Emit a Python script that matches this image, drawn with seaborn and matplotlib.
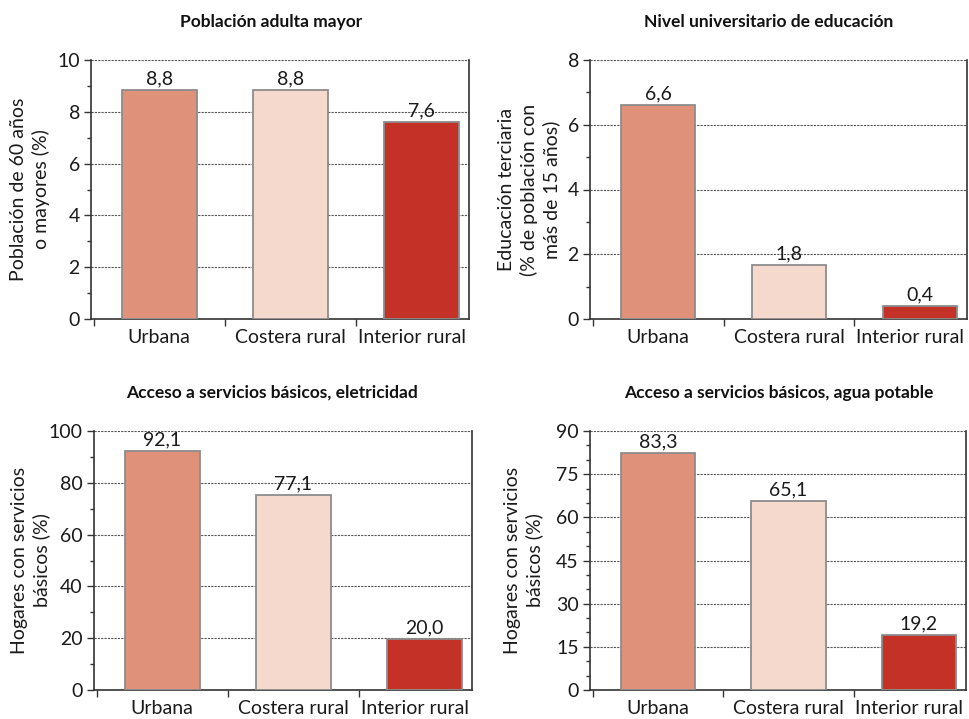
import matplotlib
matplotlib.use("Agg")
import matplotlib.pyplot as plt
import matplotlib.transforms as mtransforms
import seaborn as sns
import pandas as pd
from matplotlib.ticker import MultipleLocator, FixedLocator

sns.set_theme(style="white")
plt.rcParams['font.family'] = ['Lato', 'DejaVu Sans']

categories = ["Urbana", "Costera rural", "Interior rural"]
colors = ["#E0917A", "#F5D9CD", "#C43127"]

titles = ["Población adulta mayor",
          "Nivel universitario de educación",
          "Acceso a servicios básicos, eletricidad",
          "Acceso a servicios básicos, agua potable"]
ylabels = ["Población de 60 años\no mayores (%)",
           "Educación terciaria\n(% de población con\nmás de 15 años)",
           "Hogares con servicios\nbásicos (%)",
           "Hogares con servicios\nbásicos (%)"]

# bar heights as drawn in the picture
adult_vals = [8.85, 8.85, 7.6]
edu_vals = [6.6, 1.66, 0.4]
elec_vals = [92.3, 75.3, 19.8]
water_vals = [82.4, 65.6, 19.2]
all_vals = [adult_vals, edu_vals, elec_vals, water_vals]

# value labels as printed
adult_labels = ["8,8", "8,8", "7,6"]
edu_labels = ["6,6", "1,8", "0,4"]
elec_labels = ["92,1", "77,1", "20,0"]
water_labels = ["83,3", "65,1", "19,2"]
all_labels = [adult_labels, edu_labels, elec_labels, water_labels]

ymaxes = [10, 8, 100, 90]
ysteps = [2, 2, 20, 15]
yminor = [1, 1, 10, 5]

W, H = 970, 719
fig = plt.figure(figsize=(W / 100, H / 100), dpi=100)

# axes boxes in pixels: left, top, right, bottom
boxes = [(91, 60, 469, 319), (590, 60, 967, 319),
         (94, 431, 472, 690), (590, 431, 966, 690)]
title_pos = [(271, 22), (769, 22), (272, 393), (779, 393)]
ylabel_right = [50, 560, 50, 543]

FS = 14
TXT = "#1a1a1a"

for i in range(4):
    l, t, r, b = boxes[i]
    ax = fig.add_axes([l / W, 1 - b / H, (r - l) / W, (b - t) / H])
    df = pd.DataFrame({"cat": categories, "val": all_vals[i]})
    sns.barplot(data=df, x="cat", y="val", hue="cat", palette=colors,
                order=categories, hue_order=categories, dodge=False,
                legend=False, width=0.57, edgecolor="#8C8C8C",
                linewidth=1.3, saturation=1, ax=ax, zorder=3)
    ax.set_xlim(-0.52, 2.36)
    ax.set_ylim(0, ymaxes[i])
    ax.yaxis.set_major_locator(MultipleLocator(ysteps[i]))
    ax.yaxis.set_minor_locator(MultipleLocator(yminor[i]))
    ax.xaxis.set_minor_locator(FixedLocator([-0.5, 0.5, 1.5]))
    ax.grid(axis="y", which="major", linestyle=(0, (2, 1)), color="#555555",
            linewidth=0.8, zorder=0)
    ax.grid(axis="x", visible=False)
    for s in ["left", "bottom", "right"]:
        ax.spines[s].set_visible(True)
        ax.spines[s].set_color("#333333")
        ax.spines[s].set_linewidth(1.2)
    ax.spines["top"].set_visible(False)
    ax.tick_params(axis="y", which="major", direction="out", length=5,
                   width=1, color="#333333", labelsize=FS, pad=3,
                   left=True, labelcolor=TXT)
    ax.tick_params(axis="y", which="minor", direction="out", length=3,
                   width=1, color="#333333", left=True)
    ax.tick_params(axis="x", which="major", length=0, labelsize=FS,
                   pad=7, labelcolor=TXT)
    ax.tick_params(axis="x", which="minor", direction="out", length=5,
                   width=1, color="#333333", bottom=True)
    # last category label sits a little left of its bar
    lbls = ax.get_xticklabels()
    shift = mtransforms.ScaledTranslation(-10 / 100, 0, fig.dpi_scale_trans)
    lbls[-1].set_transform(lbls[-1].get_transform() + shift)
    ax.set_xlabel("")
    ax.set_ylabel(ylabels[i], fontsize=FS, color=TXT, linespacing=1.3)
    ax.yaxis.set_label_coords((ylabel_right[i] - l) / (r - l), 0.5)
    for j, cont in enumerate(ax.containers):
        ax.bar_label(cont, labels=[all_labels[i][j]], padding=2,
                     fontsize=FS, color=TXT)
    tx, ty = title_pos[i]
    fig.text(tx / W, 1 - ty / H, titles[i], ha="center", va="center",
             fontsize=12.5, fontweight="bold", color="#111111")

fig.savefig("out.png", dpi=100)
